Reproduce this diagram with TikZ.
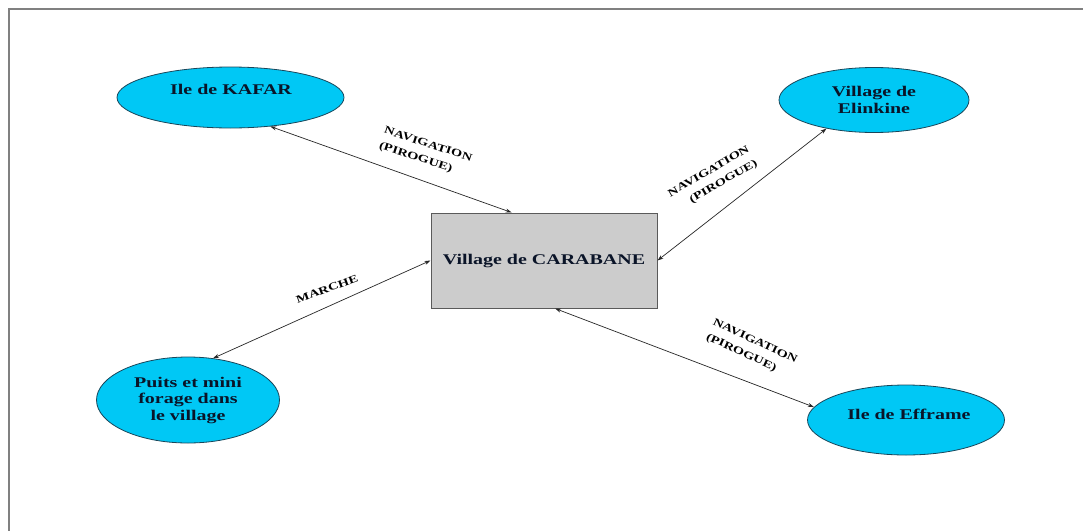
\documentclass[tikz,border=0pt]{standalone}
\usepackage{fontspec}
\setmainfont{Liberation Serif}[FakeStretch=1.35]
\usetikzlibrary{shapes.geometric,arrows.meta}
\definecolor{isle}{RGB}{0,200,245}
\definecolor{isledraw}{RGB}{25,70,90}
\definecolor{boxfill}{RGB}{204,204,204}
\definecolor{boxdraw}{RGB}{90,90,90}
\definecolor{ink}{RGB}{10,20,40}
\tikzset{
  islenode/.style={ellipse, draw=isledraw, fill=isle, line width=0.8pt, inner sep=0pt},
  bigtext/.style={font=\bfseries\fontsize{14.8}{16.5}\selectfont, text=ink, align=center},
  centerbox/.style={rectangle, draw=boxdraw, fill=boxfill, line width=1pt, inner sep=0pt,
    minimum width=226pt, minimum height=95pt},
  linklabel/.style={font=\bfseries\fontsize{10.6}{16}\selectfont, text=black},
  link/.style={draw=black!85, line width=0.7pt, {Stealth[length=6pt,width=4pt]}-{Stealth[length=6pt,width=4pt]}},
}
\begin{document}
\begin{tikzpicture}[x=1pt,y=-1pt]
\useasboundingbox (0,0) rectangle (1083,530);
\fill[white] (0,0) rectangle (1083,530);
\draw[gray, line width=1.5pt] (9,560) -- (9,9) -- (1100,9);

\node[centerbox, bigtext] (box) at (544,260.5) {Village de CARABANE};

\node[islenode, minimum width=227pt, minimum height=61pt] (kafar) at (230.5,97.5) {};
\node[bigtext] (kafart) at (231,89) {Ile de KAFAR};

\node[islenode, minimum width=190pt, minimum height=65pt, bigtext] (elink) at (874,100) {Village de\\Elinkine};

\node[islenode, minimum width=183pt, minimum height=86pt, bigtext] (puits) at (188,400) {Puits et mini\\forage dans\\le village};

\node[islenode, minimum width=197pt, minimum height=70pt] (effr) at (906,420) {};
\node[bigtext] (effrt) at (909,414) {Ile de Efframe};

\draw[link] (kafar.-36) -- (box.124);
\draw[link] (elink.211) -- (box.east);
\draw[link] (puits.59) -- (box.west);
\draw[link] (effr.172) -- (box.-77);

\node[linklabel, align=left, rotate=-18] (l1) at (425.5,152.5) {NAVIGATION\\(PIROGUE)};
\node[linklabel, align=right, rotate=30] (l2) at (713,179) {NAVIGATION\\(PIROGUE)};
\node[linklabel, rotate=20] (l3) at (327,289) {MARCHE};
\node[linklabel, align=left, rotate=-25] (l4) at (751.5,349) {NAVIGATION\\(PIROGUE)};
\end{tikzpicture}
\end{document}
